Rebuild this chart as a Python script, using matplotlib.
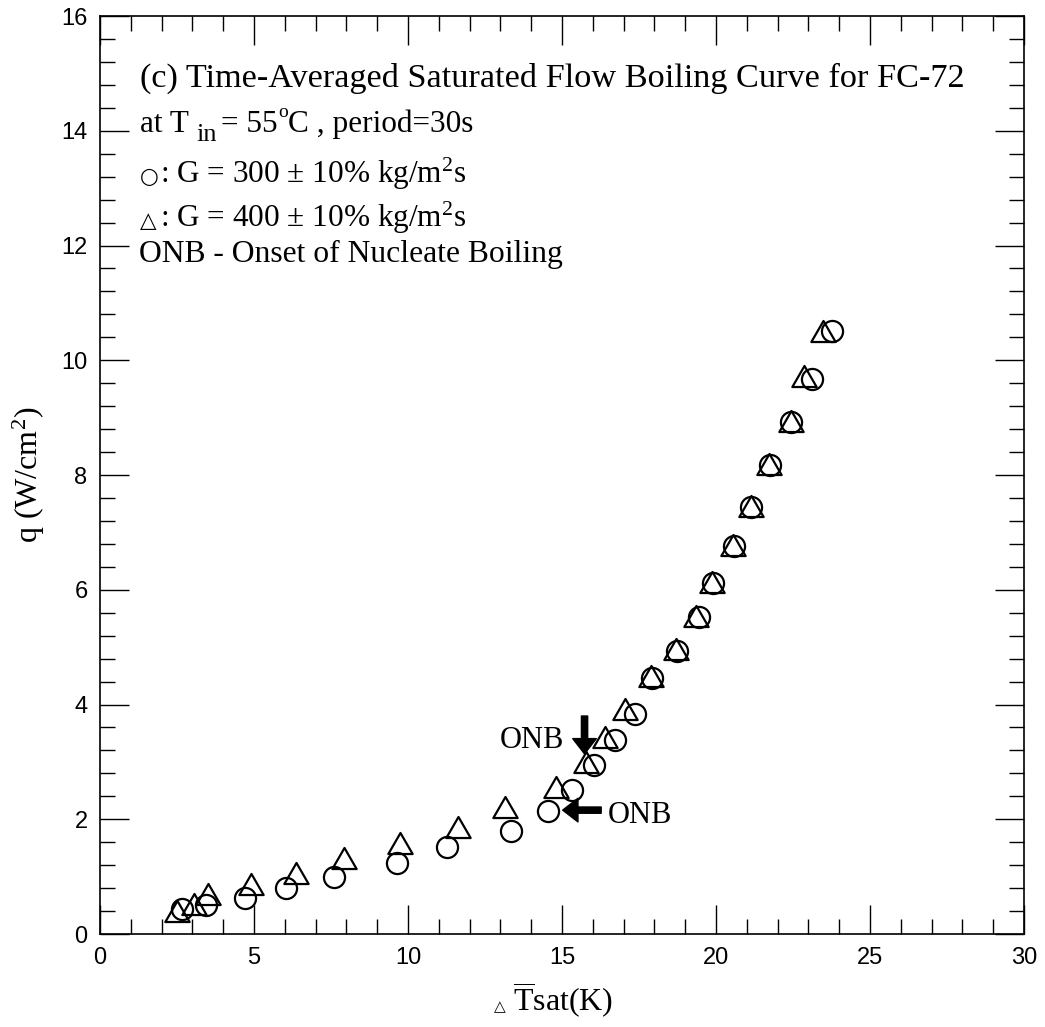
import numpy as np
import matplotlib
matplotlib.use("Agg")
import matplotlib.pyplot as plt
from matplotlib.path import Path

# ── Data ─────────────────────────────────────────────────────────────────────

# G = 300 kg/m2s  (circles)
dt_300 = [2.66, 3.45, 4.72, 6.04, 7.61, 9.65, 11.26, 13.34, 14.53, 15.32,
          16.03, 16.73, 17.38, 17.92, 18.73, 19.44, 19.90, 20.57, 21.15,
          21.74, 22.43, 23.10, 23.75]
q_300 = [0.43, 0.51, 0.63, 0.80, 1.00, 1.23, 1.52, 1.80, 2.15, 2.51,
         2.95, 3.39, 3.84, 4.47, 4.94, 5.52, 6.11, 6.76, 7.44,
         8.18, 8.92, 9.68, 10.51]

# G = 400 kg/m2s  (triangles)
dt_400 = [2.49, 3.06, 3.50, 4.90, 6.35, 7.92, 9.74, 11.63, 13.16, 14.80,
          15.78, 16.41, 17.03, 17.90, 18.70, 19.36, 19.87, 20.55, 21.12,
          21.72, 22.43, 22.86, 23.48]
q_400 = [0.40, 0.52, 0.69, 0.87, 1.07, 1.32, 1.58, 1.87, 2.22, 2.57,
         2.99, 3.43, 3.92, 4.50, 4.97, 5.55, 6.13, 6.78, 7.46,
         8.19, 8.95, 9.72, 10.51]

# ONB markers: (tail, tip)
onb_300 = ((16.27, 2.16), (15.02, 2.16))
onb_400 = ((15.73, 3.80), (15.73, 3.14))

title_line = "(c) Time-Averaged Saturated Flow Boiling Curve for FC-72"
legend_300 = r": G = 300 $\pm$ 10% kg/m$^2$s"
legend_400 = r": G = 400 $\pm$ 10% kg/m$^2$s"
onb_note = "ONB - Onset of Nucleate Boiling"

# ── Style ────────────────────────────────────────────────────────────────────

plt.rcParams["mathtext.fontset"] = "custom"
plt.rcParams["mathtext.rm"] = "Liberation Serif"
plt.rcParams["mathtext.it"] = "Liberation Serif:italic"
SERIF = ["Liberation Serif", "DejaVu Serif"]
FS = 22.5

tri = Path([(-1, -0.866), (1, -0.866), (0, 0.866), (-1, -0.866)],
           [Path.MOVETO, Path.LINETO, Path.LINETO, Path.CLOSEPOLY])

fig = plt.figure(figsize=(10.45, 10.27), dpi=100)
ax = fig.add_axes([0.0957, 0.0905, 0.8843, 0.8939])


def px(x, y):
    """Reference pixel position -> axes fraction."""
    return (x - 100) / 923, (933 - y) / 917


ax.plot(dt_300, q_300, ls="none", marker="o", ms=15.2, mfc="none",
        mec="black", mew=1.6)
ax.plot(dt_400, q_400, ls="none", marker=tri, ms=17.5, mfc="none",
        mec="black", mew=1.6)

ax.set_xlim(0, 30)
ax.set_ylim(0, 16)
ax.set_xticks(np.arange(0, 31, 5))
ax.set_xticks(np.arange(0, 31, 1), minor=True)
ax.set_yticks(np.arange(0, 17, 2))
ax.set_yticks(np.arange(0, 16.01, 0.4), minor=True)
ax.tick_params(which="both", direction="in", top=True, right=True,
               width=1.0, labelsize=17, pad=9)
ax.tick_params(which="major", length=21)
ax.tick_params(which="minor", length=11)
for lab in ax.get_xticklabels() + ax.get_yticklabels():
    lab.set_family("Liberation Sans")
for sp in ax.spines.values():
    sp.set_linewidth(1.2)

ax.set_ylabel("q (W/cm$^2$)", family=SERIF, fontsize=23, labelpad=10)
ax.text(*px(499, 1010), "\u25b3", transform=ax.transAxes, family="DejaVu Sans",
        fontsize=11, ha="center", va="baseline")
ax.text(*px(513, 1010), r"$\overline{\mathrm{T}}$sat(K)", transform=ax.transAxes,
        family=SERIF, fontsize=23, ha="left", va="baseline")

# ── Annotation block ─────────────────────────────────────────────────────────

ax.text(*px(140, 87), title_line, transform=ax.transAxes, family=SERIF,
        fontsize=24.7, va="baseline")

# "at T_in = 55 oC , period=30s" built from pieces to keep the large subscript
for x, y, s, fs in [(140, 132, "at T", FS), (196, 141, "in", 19),
                    (221, 132, "= 55", FS), (278, 117, "o", 14),
                    (288, 132, "C , period=30s", FS)]:
    ax.text(*px(x, y), s, transform=ax.transAxes, family=SERIF,
            fontsize=fs, va="baseline")

for y, sym, rest in [(183, "\u25cb", legend_300), (227, "\u25b3", legend_400)]:
    ax.text(*px(140, y), sym, transform=ax.transAxes, family="DejaVu Sans",
            fontsize=15.5, va="baseline")
    ax.text(*px(160, y), rest, transform=ax.transAxes, family=SERIF,
            fontsize=FS, va="baseline")
ax.text(*px(139, 262), onb_note, transform=ax.transAxes,
        family=SERIF, fontsize=22.8, va="baseline")

# ONB arrows
arrow = dict(facecolor="black", edgecolor="black", width=4.5, headwidth=17,
             headlength=11, shrink=0)
ax.annotate("", xy=onb_400[1], xytext=onb_400[0], arrowprops=arrow)
ax.annotate("", xy=onb_300[1], xytext=onb_300[0], arrowprops=arrow)
ax.text(15.07, 3.25, "ONB", family=SERIF, fontsize=22, ha="right", va="baseline")
ax.text(16.47, 1.94, "ONB", family=SERIF, fontsize=22, ha="left", va="baseline")

fig.savefig("out.png", dpi=100)
